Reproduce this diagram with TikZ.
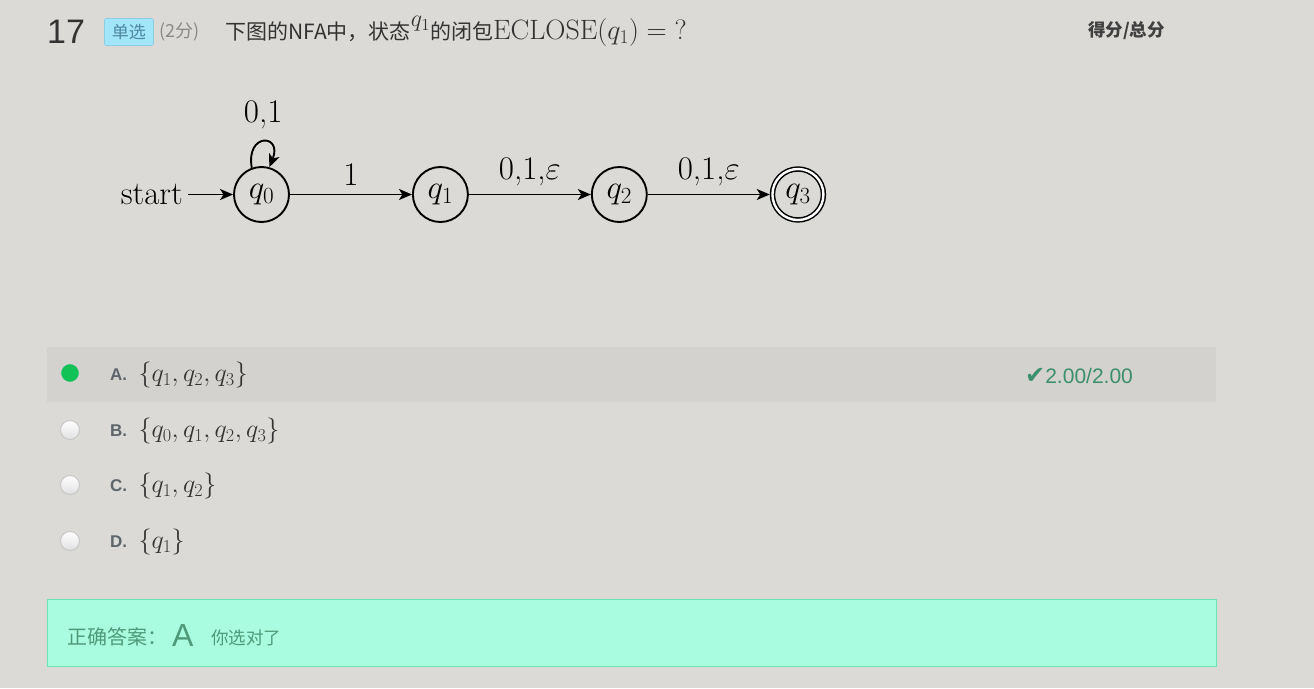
\RequirePackage{fix-cm}
\documentclass[tikz,border=0pt]{standalone}
\usepackage{amsmath}
\usepackage{fontspec}
\newfontfamily\cjk{Noto Sans CJK SC}
\newfontfamily\sans{Liberation Sans}
\newfontfamily\symb{DejaVu Sans}
\usepackage{xcolor}
\usepackage{tikz}
\usetikzlibrary{arrows.meta, positioning}
\definecolor{pagebg}{HTML}{DBDAD6}
\definecolor{rowbg}{HTML}{D3D2CE}
\definecolor{titlegray}{HTML}{333333}
\definecolor{scoregray}{HTML}{8A8A8A}
\definecolor{badgeblue}{HTML}{A2E6FA}
\definecolor{badgeline}{HTML}{8CCFE3}
\definecolor{badgetext}{HTML}{4F87A0}
\definecolor{optgray}{HTML}{5E666C}
\definecolor{okgreen}{HTML}{3B8F6C}
\definecolor{radiogreen}{HTML}{12C257}
\definecolor{mint}{HTML}{A9FCE0}
\definecolor{mintline}{HTML}{6FE2B4}
\definecolor{minttext}{HTML}{4E9A7A}

\begin{document}
\begin{tikzpicture}[x=1pt, y=-1pt,
    nfastate/.style={draw, circle, line width=1.9pt, minimum size=55pt, inner sep=0pt,
      font={\fontsize{33}{40}\selectfont}},
    nfafinal/.style={draw, circle, line width=1.5pt, double, double distance=2.4pt,
      minimum size=51pt, inner sep=0pt, outer sep=2.7pt,
      font={\fontsize{33}{40}\selectfont}},
    nfaedge/.style={-{Stealth[length=13pt, width=11pt, inset=3.5pt]}, line width=1.9pt},
    nfalabel/.style={font={\fontsize{33}{40}\selectfont}, inner sep=2pt},
    optlabel/.style={font={\sans\bfseries\fontsize{17}{20}\selectfont}, text=optgray, inner sep=0pt},
    setlabel/.style={font={\fontsize{26}{30}\selectfont}, text=black!80, inner sep=0pt},
    radio/.style={circle, minimum size=19pt, inner sep=0pt, line width=1pt,
      draw=black!22, top color=white, bottom color=black!12}]
    % --- Page ---
    \fill[pagebg] (0,0) rectangle (1314,688);
    \useasboundingbox (0,0) rectangle (1314,688);
    % --- Question header ---
    \node (qnum) [anchor=west, inner sep=0pt, text=titlegray,
      font={\sans\fontsize{34}{40}\selectfont}] at (47,32) {17};
    \node (badge) [anchor=west, fill=badgeblue, draw=badgeline, line width=0.8pt,
      rounded corners=1.5pt, minimum width=49pt, minimum height=27pt, inner sep=0pt,
      text=badgetext, font={\cjk\fontsize{17}{20}\selectfont}] at (104,32) {单选};
    \node (score) [anchor=west, inner sep=0pt, text=scoregray,
      font={\cjk\fontsize{18}{22}\selectfont}] at (159,32) {(2分)};
    \node (qtext) [anchor=base west, inner sep=0pt, text=titlegray,
      font={\fontsize{21}{24}\selectfont}] at (225,39.5)
      {{\cjk 下图的NFA中，状态}\raisebox{13pt}{\fontsize{24}{28}\selectfont$q_1$}{\cjk 的闭包}{\fontsize{28}{32}\selectfont$\mathrm{ECLOSE}(q_1) = \mathord{?}$}};
    \node (total) [anchor=east, inner sep=0pt, text=black!75,
      font={\cjk\bfseries\fontsize{17.5}{20}\selectfont}] at (1165,31) {得分/总分};
    % --- NFA ---
    \node (q0) [nfastate] at (261.5,194.5) {$q_0$};
    \node (q1) [nfastate, right=122pt of q0] {$q_1$};
    \node (q2) [nfastate, right=122pt of q1] {$q_2$};
    \node (q3) [nfafinal, right=122pt of q2] {$q_3$};
    \node (start) [nfalabel, anchor=east, inner sep=5pt] at (188,194.5) {start};
    \draw[nfaedge] (start) -- (q0);
    \draw[nfaedge] (q0.110) .. controls +(-100:36) and +(-68:36) .. (q0.74)
      node (loop) [nfalabel, pos=0.5, above=10pt] {0,1};
    \draw[nfaedge] (q0) -- (q1) node (e01) [nfalabel, midway, above=6pt] {1};
    \draw[nfaedge] (q1) -- (q2) node (e12) [nfalabel, midway, above=6pt] {0,1,$\varepsilon$};
    \draw[nfaedge] (q2) -- (q3) node (e23) [nfalabel, midway, above=6pt] {0,1,$\varepsilon$};
    % --- Options ---
    \fill[rowbg] (47,347) rectangle (1216,402);
    \node (radA) [circle, minimum size=19pt, inner sep=0pt, fill=radiogreen,
      draw=black!18, line width=1.2pt] at (70,373) {};
    \node (radB) [radio] at (70,430) {};
    \node (radC) [radio] at (70,485) {};
    \node (radD) [radio] at (70,541) {};
    \node (optA) [optlabel, anchor=west] at (110,375) {A.};
    \node (optB) [optlabel, anchor=west] at (110,431) {B.};
    \node (optC) [optlabel, anchor=west] at (110,486) {C.};
    \node (optD) [optlabel, anchor=west] at (110,542) {D.};
    \node (setA) [setlabel, right=11pt of optA] {$\{q_1,q_2,q_3\}$};
    \node (setB) [setlabel, right=11pt of optB] {$\{q_0,q_1,q_2,q_3\}$};
    \node (setC) [setlabel, right=11pt of optC] {$\{q_1,q_2\}$};
    \node (setD) [setlabel, right=11pt of optD] {$\{q_1\}$};
    \node (gotA) [anchor=west, inner sep=0pt, text=okgreen,
      font={\sans\fontsize{21}{24}\selectfont}] at (1025,376)
      {{\symb\fontsize{24}{26}\selectfont ✔}2.00/2.00};
    % --- Answer box ---
    \fill[mint, draw=mintline, line width=1pt] (47.5,599.5) rectangle (1216,666);
    \node (ans) [anchor=west, inner sep=0pt, text=minttext,
      font={\cjk\fontsize{20}{24}\selectfont}] at (67,637) {正确答案：};
    \node (ansA) [anchor=west, inner sep=0pt, text=minttext,
      font={\sans\fontsize{32}{36}\selectfont}] at (172,635) {A};
    \node (ok) [anchor=west, inner sep=0pt, text=minttext,
      font={\cjk\fontsize{17.5}{20}\selectfont}] at (211,638) {你选对了};
\end{tikzpicture}
\end{document}
